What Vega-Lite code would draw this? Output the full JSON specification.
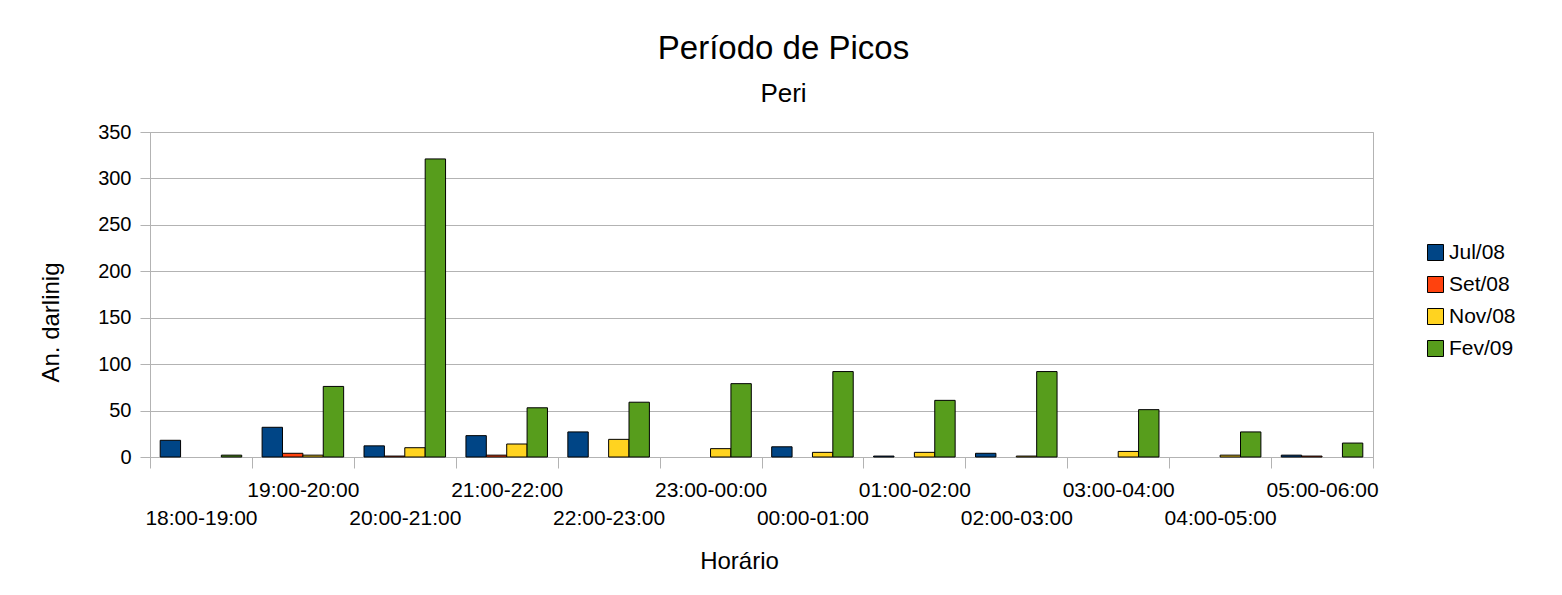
{
  "$schema": "https://vega.github.io/schema/vega-lite/v6.json",
  "width": 1223,
  "height": 325,
  "autosize": {"type": "none"},
  "padding": {"left": 150, "top": 132, "right": 189, "bottom": 138},
  "background": "white",
  "title": {
    "text": "Período de Picos",
    "subtitle": "Peri",
    "anchor": "middle",
    "dx": 22,
    "offset": 15,
    "font": "Liberation Sans",
    "fontSize": 33,
    "fontWeight": "normal",
    "color": "black",
    "subtitleFont": "Liberation Sans",
    "subtitleFontSize": 26,
    "subtitleColor": "black",
    "subtitlePadding": 15
  },
  "data": {
    "values": [
      {"hora": "18:00-19:00", "mes": "Jul/08", "valor": 18},
      {"hora": "18:00-19:00", "mes": "Set/08", "valor": 0},
      {"hora": "18:00-19:00", "mes": "Nov/08", "valor": 0},
      {"hora": "18:00-19:00", "mes": "Fev/09", "valor": 2},
      {"hora": "19:00-20:00", "mes": "Jul/08", "valor": 32},
      {"hora": "19:00-20:00", "mes": "Set/08", "valor": 4},
      {"hora": "19:00-20:00", "mes": "Nov/08", "valor": 2},
      {"hora": "19:00-20:00", "mes": "Fev/09", "valor": 76},
      {"hora": "20:00-21:00", "mes": "Jul/08", "valor": 12},
      {"hora": "20:00-21:00", "mes": "Set/08", "valor": 1},
      {"hora": "20:00-21:00", "mes": "Nov/08", "valor": 10},
      {"hora": "20:00-21:00", "mes": "Fev/09", "valor": 321},
      {"hora": "21:00-22:00", "mes": "Jul/08", "valor": 23},
      {"hora": "21:00-22:00", "mes": "Set/08", "valor": 2},
      {"hora": "21:00-22:00", "mes": "Nov/08", "valor": 14},
      {"hora": "21:00-22:00", "mes": "Fev/09", "valor": 53},
      {"hora": "22:00-23:00", "mes": "Jul/08", "valor": 27},
      {"hora": "22:00-23:00", "mes": "Set/08", "valor": 0},
      {"hora": "22:00-23:00", "mes": "Nov/08", "valor": 19},
      {"hora": "22:00-23:00", "mes": "Fev/09", "valor": 59},
      {"hora": "23:00-00:00", "mes": "Jul/08", "valor": 0},
      {"hora": "23:00-00:00", "mes": "Set/08", "valor": 0},
      {"hora": "23:00-00:00", "mes": "Nov/08", "valor": 9},
      {"hora": "23:00-00:00", "mes": "Fev/09", "valor": 79},
      {"hora": "00:00-01:00", "mes": "Jul/08", "valor": 11},
      {"hora": "00:00-01:00", "mes": "Set/08", "valor": 0},
      {"hora": "00:00-01:00", "mes": "Nov/08", "valor": 5},
      {"hora": "00:00-01:00", "mes": "Fev/09", "valor": 92},
      {"hora": "01:00-02:00", "mes": "Jul/08", "valor": 1},
      {"hora": "01:00-02:00", "mes": "Set/08", "valor": 0},
      {"hora": "01:00-02:00", "mes": "Nov/08", "valor": 5},
      {"hora": "01:00-02:00", "mes": "Fev/09", "valor": 61},
      {"hora": "02:00-03:00", "mes": "Jul/08", "valor": 4},
      {"hora": "02:00-03:00", "mes": "Set/08", "valor": 0},
      {"hora": "02:00-03:00", "mes": "Nov/08", "valor": 1},
      {"hora": "02:00-03:00", "mes": "Fev/09", "valor": 92},
      {"hora": "03:00-04:00", "mes": "Jul/08", "valor": 0},
      {"hora": "03:00-04:00", "mes": "Set/08", "valor": 0},
      {"hora": "03:00-04:00", "mes": "Nov/08", "valor": 6},
      {"hora": "03:00-04:00", "mes": "Fev/09", "valor": 51},
      {"hora": "04:00-05:00", "mes": "Jul/08", "valor": 0},
      {"hora": "04:00-05:00", "mes": "Set/08", "valor": 0},
      {"hora": "04:00-05:00", "mes": "Nov/08", "valor": 2},
      {"hora": "04:00-05:00", "mes": "Fev/09", "valor": 27},
      {"hora": "05:00-06:00", "mes": "Jul/08", "valor": 2},
      {"hora": "05:00-06:00", "mes": "Set/08", "valor": 1},
      {"hora": "05:00-06:00", "mes": "Nov/08", "valor": 0},
      {"hora": "05:00-06:00", "mes": "Fev/09", "valor": 15}
    ]
  },
  "mark": {"type": "bar", "stroke": "black"},
  "encoding": {
    "x": {
      "field": "hora",
      "type": "nominal",
      "sort": null,
      "scale": {"paddingInner": 0, "paddingOuter": 0},
      "axis": {
        "title": "Horário",
        "titleFont": "Liberation Sans",
        "titleFontSize": 24,
        "titleFontWeight": "normal",
        "titleColor": "black",
        "titleX": 589,
        "titleY": 111,
        "titleBaseline": "alphabetic",
        "labelAngle": 0,
        "labelFont": "Liberation Sans",
        "labelFontSize": 21,
        "labelColor": "black",
        "labelPadding": 11,
        "labelLineHeight": 28,
        "labelOverlap": false,
        "labelExpr": "toNumber(substring(datum.label,0,2)) % 2 == 0 ? ['', datum.label] : datum.label",
        "tickBand": "extent",
        "tickExtra": true,
        "tickSize": 11,
        "tickColor": "#b3b3b3",
        "domainColor": "#b3b3b3",
        "grid": false
      }
    },
    "xOffset": {
      "field": "mes",
      "type": "nominal",
      "sort": ["Jul/08", "Set/08", "Nov/08", "Fev/09"],
      "scale": {"paddingInner": 0, "paddingOuter": 0.5}
    },
    "y": {
      "field": "valor",
      "type": "quantitative",
      "scale": {"domain": [0, 350]},
      "axis": {
        "title": "An. darlinig",
        "titleFont": "Liberation Sans",
        "titleFontSize": 24,
        "titleFontWeight": "normal",
        "titleColor": "black",
        "titleAngle": -90,
        "titleX": -92,
        "titleY": 190,
        "titleAlign": "center",
        "titleBaseline": "alphabetic",
        "values": [0, 50, 100, 150, 200, 250, 300, 350],
        "labelFont": "Liberation Sans",
        "labelFontSize": 20,
        "labelColor": "black",
        "labelPadding": 9,
        "tickSize": 10,
        "tickColor": "#b3b3b3",
        "domainColor": "#b3b3b3",
        "gridColor": "#b3b3b3",
        "grid": true
      }
    },
    "color": {
      "field": "mes",
      "type": "nominal",
      "sort": ["Jul/08", "Set/08", "Nov/08", "Fev/09"],
      "scale": {
        "domain": ["Jul/08", "Set/08", "Nov/08", "Fev/09"],
        "range": ["#004586", "#ff420e", "#ffd320", "#579d1c"]
      },
      "legend": {
        "title": null,
        "orient": "none",
        "legendX": 1275,
        "legendY": 110,
        "symbolType": "square",
        "symbolSize": 256,
        "symbolStrokeColor": "black",
        "symbolStrokeWidth": 1,
        "labelFont": "Liberation Sans",
        "labelFontSize": 21,
        "labelColor": "black",
        "labelOffset": 3,
        "rowPadding": 10
      }
    },
    "strokeWidth": {"condition": {"test": "datum.valor == 0", "value": 0}, "value": 1}
  },
  "config": {
    "view": {"stroke": "#b3b3b3"},
    "axis": {"gridWidth": 1}
  }
}
